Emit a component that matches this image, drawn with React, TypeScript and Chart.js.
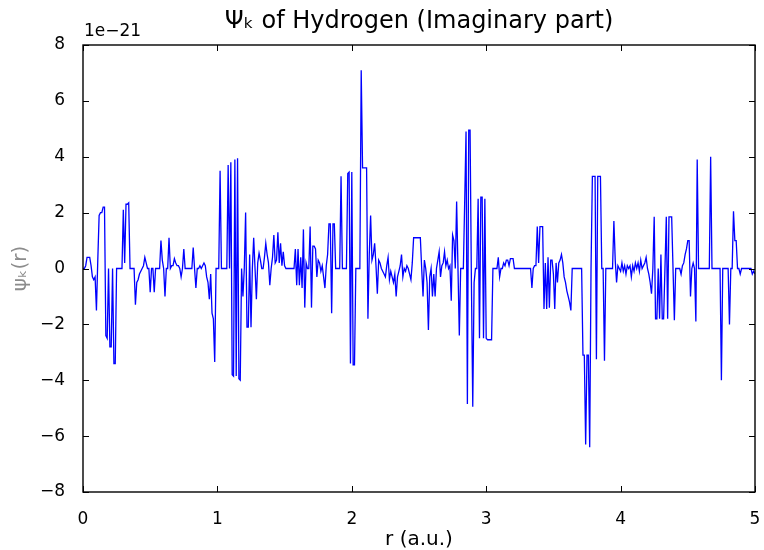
import React, { useEffect, useRef } from 'react';
import { Chart, registerables } from 'chart.js';

Chart.register(...registerables);

const TITLE = 'Ψₖ of Hydrogen (Imaginary part)';
const X_LABEL = 'r (a.u.)';
const Y_LABEL = 'ψₖ(r)';
const OFFSET_LABEL = '1e\u221221';

const R_START = 0;
const R_STEP = 0.01;
const X_TICKS = [0, 1, 2, 3, 4, 5];
const Y_TICKS = [-8, -6, -4, -2, 0, 2, 4, 6, 8];

// Imaginary part of psi_k(r), in units of 1e-21, sampled every 0.01 a.u. from r = 0 to r = 5
const PSI = [
  0, 0, 0.1, 0.4, 0.4, 0.4, 0.1, -0.3, -0.4, -0.3,
  -1.5, 0.3, 1.9, 2.0, 2.0, 2.2, 2.2, -2.4, -2.5, 0,
  -2.8, -2.8, 0, -3.4, -3.4, 0, 0, 0, 0, 0,
  2.1, 0.2, 2.3, 2.3, 2.35, 0, 0, 0, 0, -1.3,
  -0.5, -0.4, -0.2, -0.1, 0, 0.1, 0.4, 0.2, 0, 0,
  -0.85, 0, 0, -0.85, 0, 0, 0, 0, 1.0, 0.3,
  0, -1.0, 0, 0, 1.1, 0, 0.1, 0.1, 0.35, 0.2,
  0.1, 0.1, 0, -0.3, 0, 0.7, 0, 0, 0, 0,
  0, 0, 0.75, 0, -0.7, 0, 0, 0.1, 0, 0.1,
  0.2, 0.1, -0.3, -0.5, -1.1, -0.2, -1.6, -1.8, -3.35, 0,
  0, 0, 3.5, 0, 0, 0, 0, 0, 3.7, 0,
  3.8, -3.8, -3.85, 3.9, -3.85, 3.95, -3.95, -4.0, 0, -1.0,
  0, 2.0, -2.1, -2.1, 0.5, -2.1, 0, 1.1, 0, -1.1,
  0.2, 0.55, 0.3, 0, 0, 0.4, 0.9, 0.5, 0.2, -0.6,
  0, 0.4, 1.2, 0.2, 0.3, 1.3, 0.2, 0.9, 0.1, 0.6,
  0.1, 0, 0, 0, 0, 0, 0, 0, 0.7, -0.6,
  0.7, -0.6, 0.4, -0.7, 1.4, -1.4, 0.2, 0, 0, 1.5,
  -1.4, 0.8, 0.8, 0.7, -0.3, 0.3, 0.2, -0.1, 0.1, -0.3,
  -0.7, 0.1, 0.5, 1.6, 1.6, -1.6, 1.6, 1.6, 0, 0,
  0, 0, 3.3, 0, 0, 0, 0, 3.4, 3.45, -3.4,
  3.45, -3.45, -3.45, 0, 0, 0, 0, 7.1, 3.6, 3.6,
  3.6, 3.6, -1.8, 0.5, 1.9, 0.3, 0.5, 0.9, 0.1, -0.9,
  0.3, 0.2, 0, -0.1, -0.2, -0.3, 0.1, 0.4, -0.4, -0.1,
  -0.3, -0.5, -0.2, -1.0, -0.3, -0.1, 0.1, 0.5, -0.3, 0,
  -0.1, 0.1, 0, -0.2, -0.4, 0.2, 1.1, 1.1, 1.1, 1.1,
  1.1, 1.1, 0, -1.0, 0.3, 0, -0.5, -2.2, -0.3, 0,
  -1.0, -0.2, -1.0, 0, 0.3, 0.6, -0.3, 0.1, 0.2, 0.6,
  0.1, 0.3, 0, 0.1, -1.15, 1.2, 1.0, 0, 2.4, 0,
  -2.4, 0, 0, 0, 2.4, 4.9, -4.85, 4.95, 4.95, -0.5,
  -4.95, -0.5, 0, 0, 2.5, -2.5, 2.55, 2.55, -2.5, 2.5,
  -2.5, -2.55, -2.55, -2.55, -2.55, 0, 0, 0, 0, 0.4,
  -0.3, 0, 0, 0.2, 0.1, 0.3, 0.3, 0.1, 0.35, 0.35,
  0.35, 0, 0, 0, 0, 0, 0, 0, 0, 0,
  0, 0, 0, 0, -0.7, 0, 0.1, 0.1, 1.5, 0.2,
  1.5, 1.5, 1.5, -1.45, 0.2, -1.45, 0.4, -1.4, 0.3, 0.3,
  -0.2, -1.45, 0.2, -0.5, 0.2, 0.3, 0.5, 0.2, -0.3, -0.5,
  -0.8, -1.0, -1.2, -1.5, 0, 0, 0, 0, 0, 0,
  0, 0, -3.1, -3.1, -6.3, -3.1, -3.1, -6.4, 0, 3.3,
  3.3, 3.3, -3.25, 3.3, 3.3, 3.3, 0, 0, -3.3, 0,
  0, 0, 0, 0, 0, 1.7, 0.3, -0.5, 0.1, 0,
  -0.1, 0.2, -0.1, 0.1, -0.2, 0.1, 0, 0.1, -0.3, 0.1,
  -0.1, 0.2, 0, 0.2, -0.1, 0.3, 0, 0.1, 0.2, 0.4,
  0, -0.2, -0.5, -0.9, 0, 1.85, -1.8, -1.8, 0, -1.8,
  0.5, -1.8, -1.8, 0, 1.85, -1.8, 1.85, 1.85, 1.85, 0,
  -1.85, 0, 0, 0, 0, -0.2, 0.1, 0.2, 0.5, 0.7,
  1.0, 1.0, -1.0, 0, 0.2, 0, -1.9, 3.9, 0, 0,
  0, 0, 0, 0, 0, 0, 0, 4.0, 0, 0,
  0, 0, 0, 0, 0, -4.0, 0, 0, 0, 0,
  0, -2.0, 0, 0, 2.05, 1.0, 1.0, 0, 0, -0.2,
  0, 0, 0, 0, 0, 0, 0, 0, -0.2, -0.1,
  -0.2,
];

const FONT_FAMILY = 'DejaVu Sans';
const TICK_SIZE = 17;
const LABEL_SIZE = 20;
const TITLE_SIZE = 24;

const fmtTick = (v: number) => (v < 0 ? '\u2212' + Math.abs(v) : String(v));

const mplFrame = {
  id: 'mplFrame',
  afterDatasetsDraw(chart: any) {
    const { ctx, chartArea, scales } = chart;
    const { left, right, top, bottom } = chartArea;
    const xs = scales.x;
    const ys = scales.y;
    const TL = 6;
    ctx.save();
    ctx.strokeStyle = '#000';
    ctx.lineWidth = 1;
    ctx.beginPath();
    for (const t of X_TICKS) {
      const px = Math.round(xs.getPixelForValue(t)) + 0.5;
      ctx.moveTo(px, bottom);
      ctx.lineTo(px, bottom - TL);
      ctx.moveTo(px, top);
      ctx.lineTo(px, top + TL);
    }
    for (const t of Y_TICKS) {
      const py = Math.round(ys.getPixelForValue(t)) + 0.5;
      ctx.moveTo(left, py);
      ctx.lineTo(left + TL, py);
      ctx.moveTo(right, py);
      ctx.lineTo(right - TL, py);
    }
    ctx.stroke();
    ctx.lineWidth = 1.4;
    ctx.strokeRect(left, top, right - left, bottom - top);
    ctx.fillStyle = '#000';
    ctx.font = `${TICK_SIZE}px "${FONT_FAMILY}"`;
    ctx.textAlign = 'left';
    ctx.textBaseline = 'alphabetic';
    ctx.fillText(OFFSET_LABEL, left + 1, top - 9);
    ctx.restore();
  },
};

export default function App() {
  const ref = useRef<HTMLCanvasElement>(null);

  useEffect(() => {
    const canvas = ref.current;
    if (!canvas) return;
    const points = PSI.map((v, i) => ({ x: R_START + i * R_STEP, y: v }));
    const tickFont = { family: FONT_FAMILY, size: TICK_SIZE, weight: 'normal' as const };
    const chart = new Chart(canvas, {
      type: 'line',
      data: {
        datasets: [
          {
            data: points,
            borderColor: '#0000ff',
            borderWidth: 1.3,
            pointRadius: 0,
            fill: false,
            tension: 0,
          },
        ],
      },
      options: {
        animation: false,
        responsive: false,
        maintainAspectRatio: false,
        devicePixelRatio: 1,
        layout: { padding: { top: 0, right: 9, bottom: 0, left: 0 } },
        plugins: {
          legend: { display: false },
          tooltip: { enabled: false },
          title: {
            display: true,
            text: TITLE,
            fullSize: false,
            color: '#000',
            font: { family: FONT_FAMILY, size: TITLE_SIZE, weight: 'normal', lineHeight: 1.2 },
            padding: { top: 7.6, bottom: 8.6 },
          },
        },
        scales: {
          x: {
            type: 'linear',
            min: 0,
            max: 5,
            afterBuildTicks: (s: any) => {
              s.ticks = X_TICKS.map((v) => ({ value: v }));
            },
            afterFit: (s: any) => {
              s.height = 58;
              s.paddingLeft = 0;
              s.paddingRight = 0;
            },
            grid: { display: false },
            border: { display: false },
            ticks: {
              padding: 9,
              color: '#000',
              font: tickFont,
              maxRotation: 0,
              autoSkip: false,
              callback: (v: any) => fmtTick(Number(v)),
            },
            title: {
              display: true,
              text: X_LABEL,
              color: '#000',
              font: { family: FONT_FAMILY, size: LABEL_SIZE, weight: 'normal', lineHeight: 1.0 },
              padding: { top: 0, bottom: 0 },
            },
          },
          y: {
            type: 'linear',
            min: -8,
            max: 8,
            afterBuildTicks: (s: any) => {
              s.ticks = Y_TICKS.map((v) => ({ value: v }));
            },
            afterFit: (s: any) => {
              s.width = 83;
            },
            grid: { display: false },
            border: { display: false },
            ticks: {
              padding: 10,
              color: '#000',
              font: tickFont,
              autoSkip: false,
              callback: (v: any) => fmtTick(Number(v)),
            },
            title: {
              display: true,
              text: Y_LABEL,
              color: '#8c8c8c',
              font: { family: FONT_FAMILY, size: LABEL_SIZE, weight: 'normal', lineHeight: 1.2 },
              padding: { top: 9, bottom: 0 },
            },
          },
        },
      },
      plugins: [mplFrame],
    });
    return () => chart.destroy();
  }, []);

  return (
    <div style={{ position: 'absolute', left: 0, top: 0, width: 764, height: 550, background: '#fff' }}>
      <canvas ref={ref} width={764} height={550} style={{ display: 'block' }} />
    </div>
  );
}
